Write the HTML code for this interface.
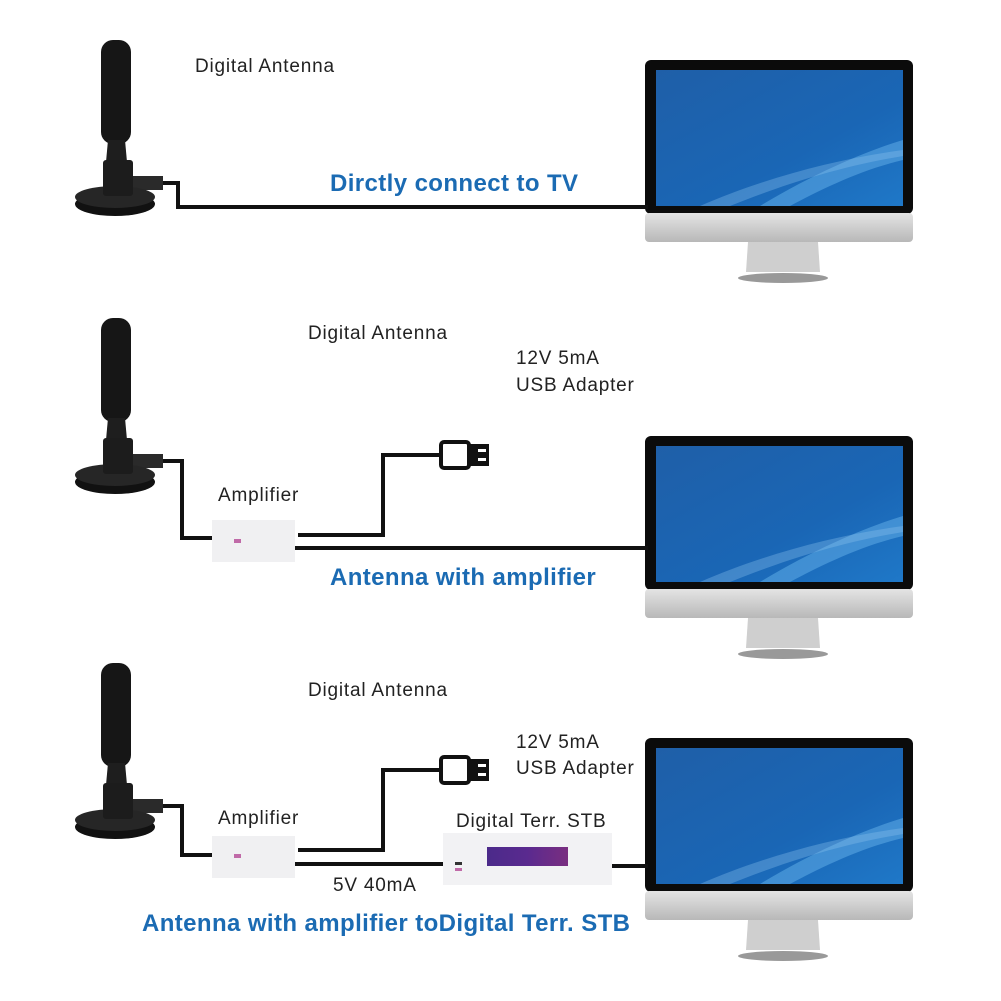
<!DOCTYPE html>
<html><head><meta charset="utf-8"><style>
html,body{margin:0;padding:0;background:#fff;}
svg{display:block}
.t{font-family:"Liberation Sans",sans-serif;font-size:19px;letter-spacing:0.8px;fill:#222}
.b{font-family:"Liberation Sans",sans-serif;font-size:24px;letter-spacing:0.4px;font-weight:bold;fill:#1b6bb3}
</style></head><body>
<svg width="1001" height="1001" viewBox="0 0 1001 1001" xmlns="http://www.w3.org/2000/svg">
<defs>
<linearGradient id="scr" x1="0" y1="0" x2="1" y2="1">
<stop offset="0" stop-color="#1f5fa8"/><stop offset="0.6" stop-color="#1a66b5"/><stop offset="1" stop-color="#1f78c8"/></linearGradient>
<linearGradient id="sil" x1="0" y1="0" x2="0" y2="1"><stop offset="0" stop-color="#e4e4e4"/><stop offset="1" stop-color="#b8b8b8"/></linearGradient>
<linearGradient id="pur" x1="0" y1="0" x2="1" y2="0"><stop offset="0" stop-color="#4b2a8a"/><stop offset="0.5" stop-color="#5a2a8f"/><stop offset="1" stop-color="#7a2e80"/></linearGradient>
<g id="mon">
<rect x="645" y="60" width="268" height="154" rx="6" fill="#0b0b0b"/>
<rect x="656" y="70" width="247" height="136" fill="url(#scr)"/>
<path d="M760 206 C820 170 870 150 903 140 L903 160 C860 170 820 190 790 206Z" fill="#5aa6e3" opacity="0.6"/>
<path d="M700 206 C760 180 830 160 903 150 L903 156 C830 168 770 190 730 206Z" fill="#8cc4ef" opacity="0.35"/>
<rect x="645" y="213" width="268" height="29" rx="4" fill="url(#sil)"/>
<path d="M748 242 L818 242 L820 272 L746 272Z" fill="#cfcfcf"/>
<ellipse cx="783" cy="278" rx="45" ry="5" fill="#999"/>
</g>
<g id="ant">
<rect x="101" y="40" width="30" height="104" rx="12" fill="#161616"/>
<path d="M108 140 L125 140 L127 162 L106 162Z" fill="#1e1e1e"/>
<rect x="133" y="176" width="30" height="14" fill="#2a2a2a"/>
<ellipse cx="115" cy="204" rx="40" ry="12" fill="#111"/>
<ellipse cx="115" cy="197" rx="40" ry="11" fill="#262626"/>
<rect x="103" y="160" width="30" height="36" rx="3" fill="#1c1c1c"/>
</g>
<g id="usb">
<rect x="441" y="442" width="28" height="26" rx="3" fill="#fff" stroke="#111" stroke-width="4"/>
<rect x="469" y="444" width="20" height="22" fill="#111"/>
<rect x="478" y="449" width="8" height="3" fill="#fff"/><rect x="478" y="458" width="8" height="3" fill="#fff"/>
</g>
</defs>

<use href="#mon"/>
<use href="#ant"/>
<polyline points="163,183 178,183 178,207 648,207" fill="none" stroke="#111" stroke-width="4"/>
<text class="t" x="195" y="72">Digital Antenna</text>
<text class="b" x="330" y="191">Dirctly connect to TV</text>

<use href="#mon" y="376"/>
<use href="#ant" y="278"/>
<polyline points="163,461 182,461 182,538 212,538" fill="none" stroke="#111" stroke-width="4"/>
<rect x="212" y="520" width="83" height="42" fill="#f0f0f2"/>
<rect x="234" y="539" width="7" height="4" fill="#c06aa8"/>
<polyline points="298,535 383,535 383,455 441,455" fill="none" stroke="#111" stroke-width="4"/>
<line x1="295" y1="548" x2="648" y2="548" stroke="#111" stroke-width="4"/>
<use href="#usb"/>
<text class="t" x="308" y="339">Digital Antenna</text>
<text class="t" x="516" y="364">12V 5mA</text>
<text class="t" x="516" y="391">USB Adapter</text>
<text class="t" x="218" y="501">Amplifier</text>
<text class="b" x="330" y="585">Antenna with amplifier</text>

<use href="#mon" y="678"/>
<use href="#ant" y="623"/>
<polyline points="163,806 182,806 182,855 212,855" fill="none" stroke="#111" stroke-width="4"/>
<rect x="212" y="836" width="83" height="42" fill="#f0f0f2"/>
<rect x="234" y="854" width="7" height="4" fill="#c06aa8"/>
<polyline points="298,850 383,850 383,770 441,770" fill="none" stroke="#111" stroke-width="4"/>
<line x1="295" y1="864" x2="445" y2="864" stroke="#111" stroke-width="4"/>
<use href="#usb" y="315"/>
<rect x="443" y="833" width="169" height="52" fill="#f2f2f4"/>
<rect x="487" y="847" width="81" height="19" fill="url(#pur)"/>
<rect x="455" y="862" width="7" height="3" fill="#333"/><rect x="455" y="868" width="7" height="3" fill="#c06aa8"/>
<line x1="612" y1="866" x2="648" y2="866" stroke="#111" stroke-width="4"/>
<text class="t" x="308" y="696">Digital Antenna</text>
<text class="t" x="516" y="748">12V 5mA</text>
<text class="t" x="516" y="774">USB Adapter</text>
<text class="t" x="218" y="824">Amplifier</text>
<text class="t" x="456" y="827">Digital Terr. STB</text>
<text class="t" x="333" y="891">5V 40mA</text>
<text class="b" x="142" y="931">Antenna with amplifier toDigital Terr. STB</text>
</svg>
</body></html>
